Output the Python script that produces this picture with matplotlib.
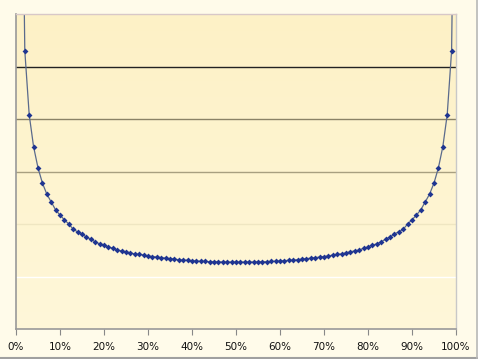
import numpy as np
import matplotlib
matplotlib.use("Agg")
import matplotlib.pyplot as plt
from matplotlib.colors import LinearSegmentedColormap
from matplotlib.ticker import FuncFormatter

# x positions (percent) and values (1 unit = one gridline step)
pcts = list(range(1, 101))
values = [
    12.0, 5.30, 4.08, 3.47, 3.07, 2.78, 2.57, 2.42, 2.27, 2.17,
    2.08, 2.00, 1.90, 1.85, 1.81, 1.75, 1.71, 1.66, 1.62, 1.60,
    1.56, 1.54, 1.50, 1.49, 1.47, 1.45, 1.43, 1.42, 1.41, 1.39,
    1.38, 1.37, 1.36, 1.35, 1.34, 1.33, 1.32, 1.31, 1.31, 1.30,
    1.295, 1.29, 1.286, 1.282, 1.28, 1.278, 1.276, 1.275, 1.275, 1.274,
    1.274, 1.275, 1.275, 1.276, 1.278, 1.28, 1.282, 1.286, 1.29, 1.295,
    1.30, 1.31, 1.31, 1.32, 1.33, 1.34, 1.35, 1.36, 1.37, 1.38,
    1.39, 1.41, 1.42, 1.43, 1.45, 1.47, 1.49, 1.50, 1.54, 1.56,
    1.60, 1.62, 1.66, 1.71, 1.75, 1.81, 1.85, 1.90, 2.00, 2.08,
    2.17, 2.27, 2.42, 2.57, 2.78, 3.07, 3.47, 4.08, 5.30, 12.0,
]
xtick_vals = list(range(0, 101, 10))
grid_levels = [1, 2, 3, 4, 5]
grid_colors = ["#ffffff", "#efe6c2", "#a89f80", "#8a8266", "#222222"]

fig = plt.figure(figsize=(4.78, 3.59), dpi=100)
fig.patch.set_facecolor("#fffbea")
ax = fig.add_axes([16 / 478, 1 - 329 / 359, 440 / 478, 315 / 359])

# pale yellow gradient, a bit stronger at the top
cmap = LinearSegmentedColormap.from_list("bg", ["#fff7d9", "#fdf1c6"])
grad = np.linspace(0, 1, 256).reshape(-1, 1)
ax.imshow(grad, cmap=cmap, aspect="auto", origin="lower",
          extent=[0, 100, 0, 6], zorder=0)

for lvl, col in zip(grid_levels, grid_colors):
    ax.axhline(lvl, color=col, linewidth=1.0, zorder=1)

ax.plot(pcts, values, color="#5a6a8c", linewidth=0.9, zorder=2)
ax.plot(pcts, values, linestyle="none", marker="D", markersize=3.0,
        color="#1f3591", markeredgewidth=0, zorder=3)

ax.set_xlim(0, 100)
ax.set_ylim(0, 6)
ax.set_xticks(xtick_vals)
ax.xaxis.set_major_formatter(FuncFormatter(lambda v, _: f"{int(v)}%"))
ax.set_yticks([])
ax.tick_params(axis="x", direction="out", length=4, width=0.8,
               color="#888888", labelsize=7.5, labelcolor="#111111", pad=5)

for side in ["left", "bottom"]:
    ax.spines[side].set_color("#999999")
    ax.spines[side].set_linewidth(1.2)
ax.spines["top"].set_color("#d8c8c8")
ax.spines["top"].set_linewidth(1.0)
ax.spines["right"].set_color("#c8c8c8")
ax.spines["right"].set_linewidth(1.0)

# shadow edge at the bottom and right of the picture
fig.add_artist(plt.Line2D([0, 0.997], [0.004, 0.004], transform=fig.transFigure,
                          color="#a0a0a0", linewidth=1.5))
fig.add_artist(plt.Line2D([0.997, 0.997], [0.004, 1.0], transform=fig.transFigure,
                          color="#b8b8b8", linewidth=1.2))

fig.savefig("out.png", dpi=100, facecolor=fig.get_facecolor())
